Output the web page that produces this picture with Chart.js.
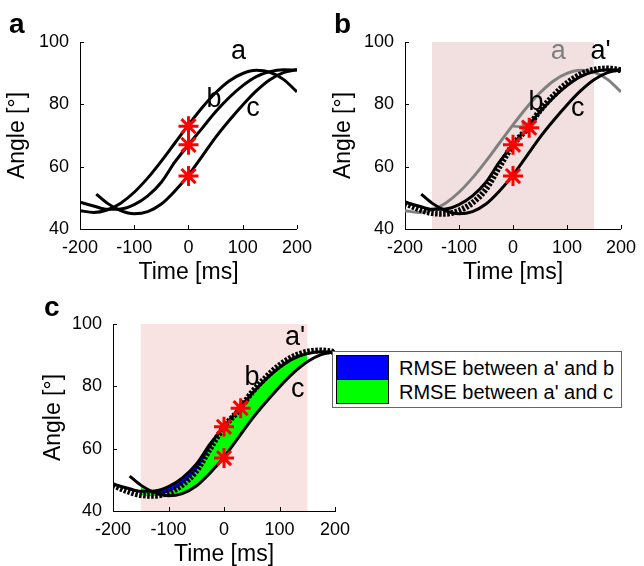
<!DOCTYPE html>
<html>
<head>
<meta charset="utf-8">
<script src="https://cdn.jsdelivr.net/npm/chart.js@4.4.0/dist/chart.umd.min.js"></script>
<style>
html, body { margin: 0; padding: 0; background: #fff; overflow: hidden; }
#pagina { position: relative; width: 644px; height: 566px; font-family: "Liberation Sans", Arial, sans-serif; color: #000; }
canvas { position: absolute; }
.letra { position: absolute; font-weight: bold; font-size: 28px; line-height: 1; }
#leyenda { position: absolute; left: 332px; top: 351px; width: 290px; height: 57px; box-sizing: border-box; border: 1px solid #666; background: #fff; }
.muestra { position: absolute; left: 3px; width: 53px; height: 25px; box-sizing: border-box; border: 1px solid #000; }
.texto { position: absolute; left: 66px; font-size: 20px; line-height: 24px; white-space: nowrap; }
</style>
</head>
<body>
<div id="pagina">
  <canvas id="graficoA" width="320" height="290" style="left:0;top:0"></canvas>
  <canvas id="graficoB" width="324" height="290" style="left:320px;top:0"></canvas>
  <canvas id="graficoC" width="644" height="290" style="left:0;top:280px"></canvas>
  <div class="letra" style="left:9px;top:10px">a</div>
  <div class="letra" style="left:334px;top:10px">b</div>
  <div class="letra" style="left:44px;top:293px">c</div>
  <div id="leyenda">
    <div class="muestra" style="top:3px;background:#0000ff"></div>
    <div class="muestra" style="top:27px;background:#00ff00"></div>
    <div class="texto" style="top:4px">RMSE between a' and b</div>
    <div class="texto" style="top:28px">RMSE between a' and c</div>
  </div>
</div>
<script>
// datos
const tiempos = [-200, -175, -150, -125, -100, -75, -50, -25, 0, 25, 50, 75, 100, 125, 150, 175, 200];
const curvaA = [45.9, 45.3, 46.1, 48.3, 51.8, 56.4, 61.8, 67.6, 73.4, 78.9, 83.7, 87.5, 89.9, 90.9, 90.3, 88.0, 84.0];
const curvaB = [48.6, 47.4, 46.3, 46.4, 47.8, 50.6, 55.0, 61.5, 67.0, 72.3, 77.6, 82.2, 86.0, 88.9, 90.5, 91.1, 91.0];
const curvaAPrima = [48.3, 46.4, 45.1, 44.9, 45.9, 48.4, 52.8, 60.0, 67.0, 72.0, 78.0, 82.8, 86.8, 89.6, 91.1, 91.5, 91.0];
const tiemposC = [-170, -150, -125, -100, -75, -50, -25, 0, 25, 50, 75, 100, 125, 150, 175, 200];
const curvaC = [51.2, 48.3, 45.9, 44.9, 45.6, 48.0, 52.2, 57.3, 63.3, 69.4, 74.8, 79.8, 84.3, 87.9, 90.2, 91.1];

const estrellasAx = [0, 0, 0];
const estrellasAy = [73, 67, 57];
const estrellasBx = [0, 0, 30];
const estrellasBy = [67, 57, 72.5];
const estrellasCy = [67, 57, 73];
const flechaX = [0, 24];
const flechaY = [73, 72.7];

const sombraInicio = -150;
const sombraFin = 150;
const ticksX = [-200, -100, 0, 100, 200];
const ticksY = [40, 60, 80, 100];

const FUENTE = '"Liberation Sans", Arial, sans-serif';
const GRIS = "#808080";

function puntos(xs, ys) {
    return xs.map((x, i) => ({ x: x, y: ys[i] }));
}

function serie(xs, ys, extra) {
    return Object.assign({
        data: puntos(xs, ys),
        borderColor: "#000",
        borderWidth: 3,
        pointRadius: 0,
        fill: false,
        cubicInterpolationMode: "monotone"
    }, extra || {});
}

function estrellas(xs, ys) {
    return {
        data: puntos(xs, ys),
        showLine: false,
        pointStyle: "star",
        pointRadius: 10,
        borderWidth: 3,
        borderColor: "#ff0000",
        backgroundColor: "#ff0000"
    };
}

const estiloAPrima = { borderWidth: 6, borderDash: [2.5, 1.5], borderCapStyle: "butt" };

// sombra, etiquetas de curvas y marcas de eje hacia adentro
const pluginPanel = {
    id: "panel",
    beforeDatasetsDraw(chart, args, o) {
        if (!o.sombra) return;
        const { ctx, scales: { x, y } } = chart;
        const x0 = x.getPixelForValue(sombraInicio), x1 = x.getPixelForValue(sombraFin);
        const y0 = y.getPixelForValue(100), y1 = y.getPixelForValue(40);
        ctx.save();
        ctx.fillStyle = o.sombra;
        ctx.fillRect(x0, y0, x1 - x0, y1 - y0);
        ctx.restore();
    },
    afterDatasetsDraw(chart, args, o) {
        const { ctx, chartArea, scales: { x, y } } = chart;
        ctx.save();
        ctx.strokeStyle = "#000";
        ctx.lineWidth = 1;
        ticksX.forEach(t => {
            const px = Math.round(x.getPixelForValue(t)) + 0.5;
            ctx.beginPath();
            ctx.moveTo(px, chartArea.bottom);
            ctx.lineTo(px, chartArea.bottom - 4);
            ctx.stroke();
        });
        ticksY.forEach(t => {
            const py = Math.round(y.getPixelForValue(t)) + 0.5;
            ctx.beginPath();
            ctx.moveTo(chartArea.left, py);
            ctx.lineTo(chartArea.left + 4, py);
            ctx.stroke();
        });
        ctx.font = "27px " + FUENTE;
        ctx.textAlign = "center";
        ctx.textBaseline = "middle";
        (o.etiquetas || []).forEach(e => {
            ctx.fillStyle = e.color || "#000";
            ctx.fillText(e.texto, x.getPixelForValue(e.x), y.getPixelForValue(e.y));
        });
        ctx.restore();
    }
};

function ejes(anchoY, altoX, abajoTitulo) {
    const fuenteTicks = { size: 18, family: FUENTE };
    const fuenteTitulo = { size: 23, family: FUENTE };
    return {
        x: {
            type: "linear", min: -200, max: 200,
            ticks: { stepSize: 100, color: "#000", font: fuenteTicks, padding: 8, maxRotation: 0 },
            grid: { display: false, drawTicks: false },
            border: { display: true, color: "#000", width: 1 },
            title: { display: true, text: "Time [ms]", color: "#000", font: fuenteTitulo, padding: { top: 0, bottom: abajoTitulo } },
            afterFit: s => { s.height = altoX; }
        },
        y: {
            type: "linear", min: 40, max: 100,
            ticks: { stepSize: 20, color: "#000", font: fuenteTicks, padding: 11 },
            grid: { display: false, drawTicks: false },
            border: { display: true, color: "#000", width: 1 },
            title: { display: true, text: "Angle [°]", color: "#000", font: fuenteTitulo, padding: { top: 4, bottom: 0 } },
            afterFit: s => { s.width = anchoY; }
        }
    };
}

function crearGrafico(id, datasets, padding, anchoY, altoX, abajoTitulo, panel) {
    return new Chart(document.getElementById(id), {
        type: "line",
        data: { datasets },
        options: {
            responsive: false,
            animation: false,
            devicePixelRatio: 1,
            layout: { padding },
            scales: ejes(anchoY, altoX, abajoTitulo),
            plugins: {
                legend: { display: false },
                tooltip: { enabled: false },
                panel
            }
        },
        plugins: [pluginPanel]
    });
}

// panel a
crearGrafico("graficoA", [
    estrellas(estrellasAx, estrellasAy),
    serie(tiempos, curvaA),
    serie(tiempos, curvaB),
    serie(tiemposC, curvaC)
], { left: 0, top: 42, right: 18, bottom: 0 }, 80, 61, 4, {
    etiquetas: [
        { texto: "a", x: 92, y: 96.8 },
        { texto: "b", x: 47, y: 81.4 },
        { texto: "c", x: 119, y: 78.8 }
    ]
});

// panel b
crearGrafico("graficoB", [
    estrellas(estrellasBx, estrellasBy),
    serie(flechaX, flechaY, {
        borderColor: GRIS, borderWidth: 2.5, pointRadius: [0, 6], pointStyle: "triangle",
        pointRotation: 90, pointBackgroundColor: GRIS, pointBorderColor: GRIS, cubicInterpolationMode: "default"
    }),
    serie(tiempos, curvaAPrima, estiloAPrima),
    serie(tiempos, curvaB),
    serie(tiemposC, curvaC),
    serie(tiempos, curvaA, { borderColor: GRIS })
], { left: 6, top: 42, right: 18, bottom: 0 }, 79, 61, 4, {
    sombra: "#f2e0e0",
    etiquetas: [
        { texto: "a", x: 84, y: 96.8, color: GRIS },
        { texto: "a'", x: 162, y: 96.8 },
        { texto: "b", x: 42.5, y: 80.7 },
        { texto: "c", x: 120, y: 78.8 }
    ]
});

// panel c: rellenos solo dentro de la zona sombreada
const enRango = t => t >= sombraInicio && t <= sombraFin;
const tiemposRango = tiempos.filter(enRango);
const aPrimaRango = tiemposRango.map(t => curvaAPrima[tiempos.indexOf(t)]);
const bRango = tiemposRango.map(t => curvaB[tiempos.indexOf(t)]);
const cRango = tiemposRango.map(t => curvaC[tiemposC.indexOf(t)]);

crearGrafico("graficoC", [
    estrellas(estrellasBx, estrellasCy),
    serie(tiempos, curvaAPrima, estiloAPrima),
    serie(tiempos, curvaB),
    serie(tiemposC, curvaC),
    serie(tiemposRango, cRango, { borderWidth: 0, fill: 5, backgroundColor: "#00ff00" }),
    serie(tiemposRango, aPrimaRango, { borderWidth: 0, fill: 6, backgroundColor: "#0000ff" }),
    serie(tiemposRango, bRango, { borderWidth: 0 })
], { left: 36, top: 44, right: 309, bottom: 0 }, 77, 59, 2, {
    sombra: "#f8e2e2",
    etiquetas: [
        { texto: "a'", x: 128, y: 95.8 },
        { texto: "b", x: 50.5, y: 82.7 },
        { texto: "c", x: 133, y: 79.1 }
    ]
});
</script>
</body>
</html>
